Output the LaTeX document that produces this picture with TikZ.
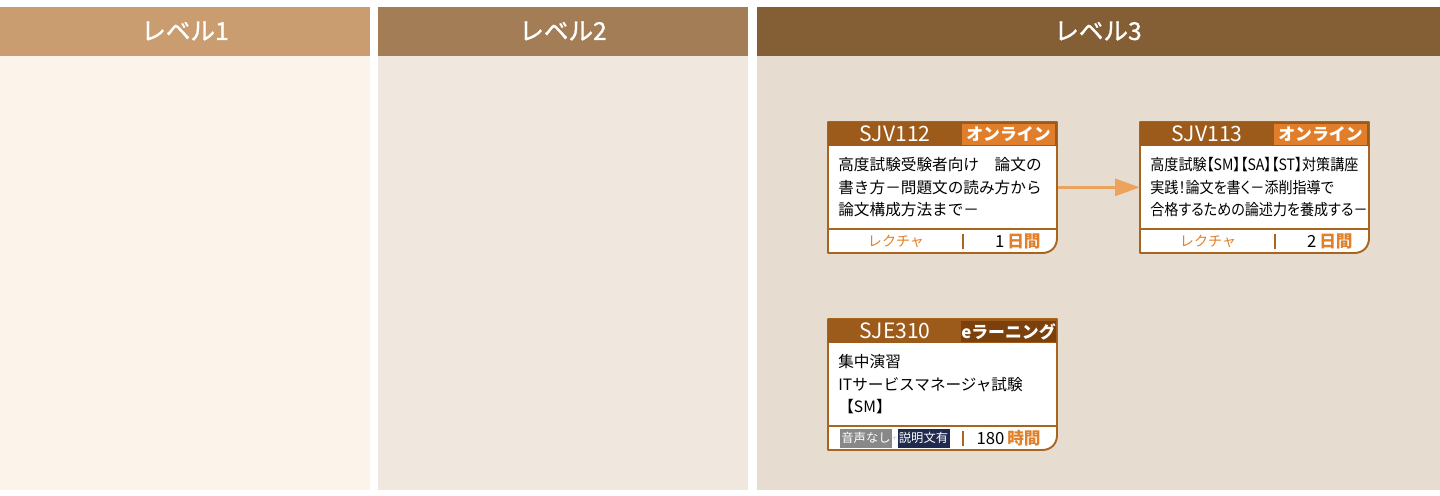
\documentclass[tikz,border=0pt]{standalone}
\usepackage{fontspec}
\setmainfont{Noto Sans CJK JP}
\newfontfamily\narrowjp[FakeStretch=0.9,CharacterWidth=AlternateProportional]{Noto Sans CJK JP}
\newfontfamily\mediumjp[FakeBold=1.2]{Noto Sans CJK JP}
\usetikzlibrary{positioning,arrows.meta}
\definecolor{headone}{HTML}{C99D70}
\definecolor{headtwo}{HTML}{A37D55}
\definecolor{headthree}{HTML}{845E34}
\definecolor{bodyone}{HTML}{FCF3EA}
\definecolor{bodytwo}{HTML}{F0E8DF}
\definecolor{bodythree}{HTML}{E7DCD0}
\definecolor{cardhead}{HTML}{9D5B1B}
\definecolor{cardline}{HTML}{A8651F}
\definecolor{online}{HTML}{E07E2B}
\definecolor{elearn}{HTML}{7B400C}
\definecolor{footorange}{HTML}{E0802A}
\definecolor{flowcol}{HTML}{EBA35E}
\definecolor{nosound}{HTML}{888888}
\definecolor{caption}{HTML}{1F2A4E}
\begin{document}
\begin{tikzpicture}[x=0.02cm,y=-0.02cm,line join=round,
  levelhead/.style={text=white,font=\fontsize{14}{16}\mediumjp},
  code/.style={text=white,font=\fontsize{12}{14}\selectfont},
  badge/.style={text=white,minimum width=1.86cm,minimum height=0.42cm,inner sep=0pt,
    font=\fontsize{9.6}{11}\selectfont\bfseries},
  cardbody/.style={anchor=north west,text width=4.18cm,inner xsep=0.2cm,inner ysep=0pt,
    minimum height=1.64cm,align=left,font=\fontsize{8.9}{12.7}\selectfont},
  foot/.style={inner sep=0pt,font=\fontsize{8}{10}\selectfont},
  tag/.style={text=white,inner sep=0pt,minimum height=0.38cm,font=\fontsize{7}{8}\selectfont},
  flow/.style={flowcol,line width=1.7pt,-{Triangle[length=0.5cm,width=0.34cm]}}]
\useasboundingbox (0,0) rectangle (1440,495);
\fill[white] (0,0) rectangle (1440,495);
% columns
\fill[bodyone] (0,56) rectangle (370,490);
\fill[headone] (0,7) rectangle (370,56);
\fill[bodytwo] (378,56) rectangle (748,490);
\fill[headtwo] (378,7) rectangle (748,56);
\fill[bodythree] (757,56) rectangle (1440,490);
\fill[headthree] (757,7) rectangle (1440,56);
\node[levelhead] (lv1) at (185,31) {レベル1};
\node[levelhead] (lv2) at (563,31) {レベル2};
\node[levelhead] (lv3) at (1098,31) {レベル3};
% card frames
\foreach \cx/\cy in {828/122,1140/122,828/319}{
  \begin{scope}[shift={(\cx,\cy)}]
    \filldraw[fill=white,draw=cardline,line width=1.1pt] (0,0) -- (229,0) -- (229,116)
      .. controls (229,125) and (223,131) .. (214,131) -- (0,131) -- cycle;
    \fill[cardhead] (0,0) rectangle (229,24);
    \draw[cardline,line width=0.8pt] (0,107) -- (229,107);
    \draw[cardline,line width=0.6pt] (135,112) -- (135,127);
  \end{scope}
}
% SJV112
\node[code] (h112) at (895,134) {SJV112};
\node[badge,fill=online] (b112) at (1008.5,134.5) {オンライン};
\node[cardbody] (sjv112) at (828,146) {高度試験受験者向け　論文の\\書き方－問題文の読み方から\\論文構成方法まで－};
\node[foot,text=footorange] (t112) at (896,241) {レクチャ};
\node[foot,anchor=east] (d112) at (1041,241) {\fontsize{9.5}{10}\selectfont 1\,\textcolor{footorange}{\bfseries 日間}};
% SJV113
\node[code] (h113) at (1207,134) {SJV113};
\node[badge,fill=online] (b113) at (1320.5,134.5) {オンライン};
\node[cardbody] (sjv113) at (1140,146) {\narrowjp 高度試験【SM】【SA】【ST】対策講座\\実践！論文を書く－添削指導で\\合格するための論述力を養成する－};
\node[foot,text=footorange] (t113) at (1208,241) {レクチャ};
\node[foot,anchor=east] (d113) at (1353,241) {\fontsize{9.5}{10}\selectfont 2\,\textcolor{footorange}{\bfseries 日間}};
% SJE310
\node[code] (h310) at (895,331) {SJE310};
\node[badge,fill=elearn] (b310) at (1008.5,331.5) {eラーニング};
\node[cardbody] (sje310) at (828,343) {集中演習\\ITサービスマネージャ試験\\【SM】};
\node[tag,fill=nosound,minimum width=1.04cm] (ns310) at (866,438) {音声なし};
\node[tag,fill=caption,minimum width=1.04cm] (cp310) at (923.5,438) {説明文有};
\node[inner sep=0pt,text=white!80!black,font=\fontsize{5}{5}\selectfont] (pl310) at (894.5,439) {+};
\node[foot,anchor=east] (d310) at (1041,438) {\fontsize{9.5}{10}\selectfont 180\,\textcolor{footorange}{\bfseries 時間}};
% flow
\draw[flow] (sjv112.east) -- (sjv113.west);
\end{tikzpicture}
\end{document}
